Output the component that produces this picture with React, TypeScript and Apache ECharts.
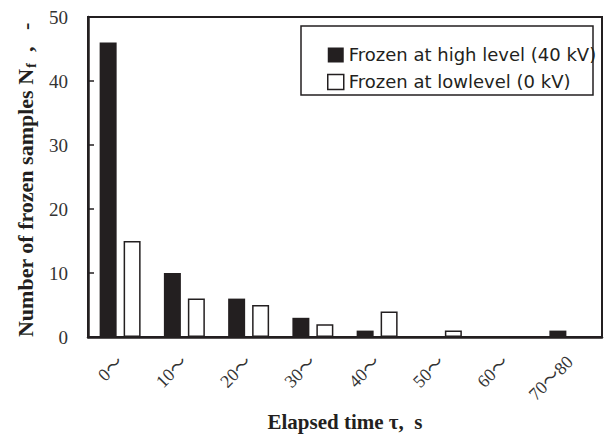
import React, { useEffect, useRef } from "react";
import * as echarts from "echarts";

const categories = ["0〜", "10〜", "20〜", "30〜", "40〜", "50〜", "60〜", "70〜80"];
const highLevel = [46, 10, 6, 3, 1, 0, 0, 1];
const lowLevel = [15, 6, 5, 2, 4, 1, 0, 0];
const yTicks = { min: 0, max: 50, interval: 10 };

const SERIF = '"Liberation Serif", "DejaVu Serif", "Noto Sans CJK JP", serif';
const SANS = '"DejaVu Sans", "Noto Sans CJK JP", sans-serif';
const INK = "#231f20";

export default function App() {
  const ref = useRef<HTMLDivElement>(null);
  useEffect(() => {
    document.body.style.margin = "0";
    if (!ref.current) return;
    const chart = echarts.init(ref.current, null, { renderer: "svg" });
    chart.setOption({
      animation: false,
      backgroundColor: "#fff",
      grid: {
        left: 88,
        right: 6,
        top: 17,
        bottom: 95,
        show: true,
        borderColor: INK,
        borderWidth: 2,
      },
      legend: {
        left: 322,
        top: 41,
        orient: "vertical",
        itemWidth: 16,
        itemHeight: 15,
        itemGap: 9,
        icon: "rect",
        textStyle: { fontFamily: SANS, fontSize: 18, color: INK },
        data: [
          { name: "Frozen at high level (40 kV)", itemStyle: { color: INK } },
          {
            name: "Frozen at lowlevel (0 kV)",
            itemStyle: { color: "#fff", borderColor: INK, borderWidth: 1.5 },
          },
        ],
      },
      graphic: [
        {
          type: "rect",
          shape: { x: 301, y: 26, width: 292, height: 69 },
          style: { fill: "none", stroke: INK, lineWidth: 1.5 },
          z: 10,
        },
        {
          type: "text",
          x: 25,
          y: 180,
          rotation: Math.PI / 2,
          style: {
            text: "{a|Number of frozen samples N}{s|f}{a|  ,   -}",
            align: "center",
            verticalAlign: "middle",
            rich: {
              a: {
                fontFamily: SERIF,
                fontSize: 22,
                fontWeight: "bold",
                fill: INK,
              },
              s: {
                fontFamily: SERIF,
                fontSize: 14,
                fontWeight: "bold",
                fill: INK,
                verticalAlign: "bottom",
                padding: [12, 0, 0, 1],
              },
            },
          },
        },
      ],
      xAxis: {
        type: "category",
        data: categories,
        axisTick: { show: false },
        axisLine: { lineStyle: { color: INK, width: 2.5 } },
        axisLabel: {
          rotate: 45,
          margin: 22,
          fontFamily: SERIF,
          fontSize: 18,
          color: "#333",
        },
        name: "Elapsed time τ,  s",
        nameLocation: "middle",
        nameGap: 74,
        nameTextStyle: {
          fontFamily: SERIF,
          fontSize: 21,
          fontWeight: "bold",
          color: INK,
        },
      },
      yAxis: {
        type: "value",
        min: yTicks.min,
        max: yTicks.max,
        interval: yTicks.interval,
        splitLine: { show: false },
        axisLine: { show: true, lineStyle: { color: INK, width: 2.5 } },
        axisTick: {
          show: true,
          inside: true,
          length: 6,
          lineStyle: { color: INK, width: 1.5 },
        },
        axisLabel: {
          margin: 20,
          fontFamily: SERIF,
          fontSize: 19,
          color: "#333",
        },
      },
      series: [
        {
          name: "Frozen at high level (40 kV)",
          type: "bar",
          data: highLevel,
          barWidth: 17,
          barGap: "41%",
          itemStyle: { color: INK },
        },
        {
          name: "Frozen at lowlevel (0 kV)",
          type: "bar",
          data: lowLevel,
          barWidth: 17,
          itemStyle: { color: "#fff", borderColor: INK, borderWidth: 1.5 },
        },
      ],
    });
    return () => chart.dispose();
  }, []);
  return <div ref={ref} style={{ width: 608, height: 437 }} />;
}
